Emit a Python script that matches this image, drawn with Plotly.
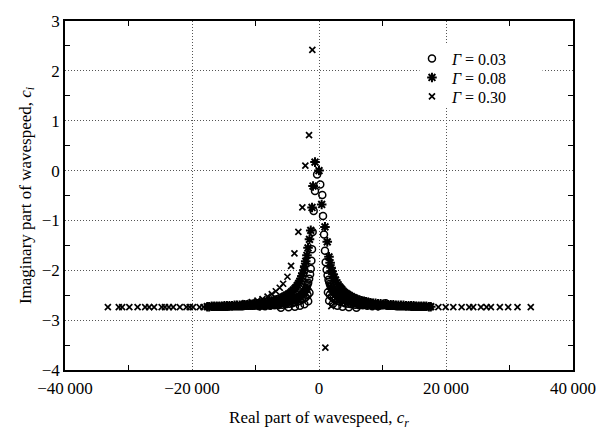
import plotly.graph_objects as go

# Gamma = 0.03 (open circles): main branch, then inner branches filling the band
g003_x = [-300, -630, -840, -1000, -1100, -1200, -1300, -1400, -1550, -1700, -1800, -1900, -2000, -2100,
          -2250, -2350, -2500, -2600, -2750, -2900, -3050, -3200, -3400, -3600, -3800, -4000, -4250,
          -4500, -4750, -5000, -5250, -5500, -5750, -6000, -6300, -6600, -6900, -7200, -7500, -7800,
          -8100, -8400, -8700, -9000, -9300, -9600, -9900, -10200, -10500, -10800, -11100, -11400,
          -11700, -12000, -12300, -12600, -12900, -13200, -13500, -13800, -14100, -14400, -14700,
          -15000, -15300, -15600, -15900, -16200, -16500, -16800,
          200, 520, 630, 790, 940, 1050, 1200, 1350, 1500, 1600, 1700, 1800, 1900, 2000, 2150, 2300,
          2400, 2550, 2700, 2850, 3000, 3200, 3400, 3600, 3800, 4050, 4300, 4550, 4800, 5050, 5300,
          5600, 5900, 6200, 6500, 6800, 7100, 7400, 7700, 8000, 8300, 8600, 8900, 9200, 9500, 9800,
          10100, 10500, 10700, 11000, 11300, 11600, 11900, 12200, 12500, 12800, 13100, 13400, 13700,
          14000, 14300, 14600, 14900, 15200, 15500, 15800, 16100, 16400, 16700,
          -1500, -1800, -2100, -2400, -2700, -3000, -3400, -3800, -4200, -4700, -5200, -5800, -6400,
          -7000, -7700, -8500, -9400,
          -1700, -2300, -3000, -3800, -4800, -6000,
          1400, 1700, 2000, 2300, 2600, 2900, 3300, 3700, 4100, 4600, 5100, 5700, 6300, 6900, 7600,
          8400, 9300,
          1600, 2200, 2900, 3700, 4700, 5900]
g003_y = [-0.08, -0.41, -0.81, -1.23, -1.58, -1.81, -1.97, -2.08, -2.17, -2.25, -2.28, -2.32, -2.35, -2.38,
          -2.41, -2.43, -2.45, -2.47, -2.49, -2.51, -2.52, -2.54, -2.55, -2.57, -2.58, -2.59, -2.60,
          -2.61, -2.62, -2.63, -2.64, -2.65, -2.65, -2.66, -2.66, -2.67, -2.67, -2.68, -2.68, -2.69,
          -2.69, -2.69, -2.69, -2.70, -2.70, -2.70, -2.70, -2.71, -2.71, -2.71, -2.71, -2.71,
          -2.71, -2.72, -2.72, -2.72, -2.72, -2.72, -2.72, -2.72, -2.72, -2.73, -2.73,
          -2.73, -2.73, -2.73, -2.73, -2.73, -2.73, -2.73,
          -0.28, -0.49, -0.91, -1.28, -1.61, -1.84, -1.99, -2.10, -2.19, -2.23, -2.27, -2.30, -2.33, -2.36,
          -2.39, -2.42, -2.44, -2.46, -2.48, -2.50, -2.52, -2.53, -2.55, -2.56, -2.58, -2.59, -2.60,
          -2.61, -2.62, -2.63, -2.64, -2.65, -2.65, -2.66, -2.66, -2.67, -2.67, -2.68, -2.68, -2.68,
          -2.69, -2.69, -2.69, -2.70, -2.70, -2.70, -2.70, -2.66, -2.71, -2.71, -2.71, -2.71, -2.71,
          -2.72, -2.72, -2.72, -2.72, -2.72, -2.72, -2.72, -2.72, -2.73, -2.73, -2.73, -2.73, -2.73,
          -2.73, -2.73, -2.73,
          -2.45, -2.50, -2.54, -2.57, -2.59, -2.61, -2.63, -2.64, -2.66, -2.67, -2.68, -2.69, -2.70,
          -2.70, -2.71, -2.72, -2.72,
          -2.62, -2.68, -2.71, -2.73, -2.74, -2.75,
          -2.44, -2.49, -2.53, -2.56, -2.59, -2.61, -2.63, -2.64, -2.66, -2.67, -2.68, -2.69, -2.70,
          -2.70, -2.71, -2.72, -2.72,
          -2.61, -2.67, -2.71, -2.73, -2.74, -2.75]

# Gamma = 0.08 (asterisks)
g008_x = [-630, -940, -1100, -1300, -1500, -1730, -1900, -2090, -2250, -2400, -2550, -2700, -2850, -3000,
          -3200, -3400, -3600, -3800, -4050, -4300, -4550, -4800, -5100, -5400, -5700, -6000, -6350,
          -6700, -7050, -7400, -7750, -8100, -8500, -8900, -9300, -9700, -10100, -10500, -10900,
          -11300, -11700, -12100, -12500, -12900, -13300, -13700, -14100, -14500, -14900, -15300,
          -15700, -16100, -16500, -16900, -17300, -17600,
          0, 420, 940, 1300, 1570, 1750, 1900, 2050, 2200, 2400, 2600, 2800, 3000, 3200, 3400, 3600,
          3800, 4050, 4300, 4550, 4800, 5100, 5400, 5700, 6000, 6350, 6700, 7050, 7400, 7750, 8100,
          8500, 8900, 9300, 9700, 10100, 10500, 10900, 11300, 11700, 12100, 12500, 12900, 13300,
          13700, 14100, 14500, 14900, 15300, 15700, 16100, 16500, 16900, 17300, 17600,
          -1900, -2300, -2700, -3100, -3500, -4000, -4500, -5000, -5600, -6200, -6900, -7600, -8400, -9300,
          1900, 2300, 2700, 3100, 3500, 4000, 4500, 5000, 5600, 6200, 6900, 7600, 8400, 9300]
g008_y = [0.17, -0.31, -0.74, -1.20, -1.38, -1.55, -1.70, -1.82, -1.92, -2.00, -2.06, -2.12, -2.17, -2.22,
          -2.26, -2.30, -2.34, -2.37, -2.40, -2.43, -2.46, -2.48, -2.50, -2.52, -2.54, -2.56, -2.58,
          -2.59, -2.60, -2.62, -2.63, -2.64, -2.65, -2.66, -2.66, -2.67, -2.67, -2.68, -2.68,
          -2.69, -2.69, -2.70, -2.70, -2.70, -2.70, -2.71, -2.71, -2.71, -2.71, -2.72,
          -2.72, -2.72, -2.72, -2.72, -2.73, -2.73,
          0.00, -0.68, -1.13, -1.43, -1.73, -1.85, -1.95, -2.02, -2.08, -2.14, -2.20, -2.25, -2.29, -2.33,
          -2.36, -2.39, -2.42, -2.45, -2.47, -2.49, -2.51, -2.53, -2.55, -2.57, -2.58, -2.60, -2.61,
          -2.62, -2.63, -2.64, -2.65, -2.66, -2.66, -2.67, -2.67, -2.68, -2.68, -2.69, -2.69, -2.69,
          -2.70, -2.70, -2.70, -2.70, -2.71, -2.71, -2.71, -2.71, -2.72, -2.72, -2.72, -2.72, -2.72,
          -2.73, -2.73,
          -2.38, -2.44, -2.49, -2.53, -2.56, -2.59, -2.61, -2.63, -2.65, -2.66, -2.68, -2.69, -2.70, -2.71,
          -2.37, -2.43, -2.48, -2.52, -2.55, -2.58, -2.61, -2.63, -2.65, -2.66, -2.68, -2.69, -2.70, -2.71]

# Gamma = 0.30 (crosses)
g030_x = [-1050, -1570, -2150, -2620, -3250, -3870, -4400, -4970, -5650, -6180, -6800, -7430, -8100,
          -8900, -9700, -10600, -11600, -12600, -13700, -14900, -16200, -17300,
          -18180, -18800, -19840, -20360, -20880, -21920, -22960, -23640, -24260, -24780, -25970,
          -26750, -27380, -28570, -29870, -31000, -31530, -33250,
          1000, 1940, 3000, 4500, 6000, 7500, 9000, 10500, 12000, 13500, 15000, 16300,
          17490, 18800, 19950, 21150, 22460, 23660, 24290, 25500, 26390, 27070, 28480, 29790, 31260, 33350]
g030_y = [2.42, 0.71, 0.10, -0.74, -1.23, -1.66, -1.91, -2.13, -2.27, -2.35, -2.42, -2.48, -2.53,
          -2.58, -2.61, -2.64, -2.66, -2.68, -2.70, -2.71, -2.72, -2.73,
          -2.74, -2.74, -2.74, -2.74, -2.74, -2.74, -2.74, -2.74, -2.74, -2.74, -2.74,
          -2.74, -2.74, -2.74, -2.74, -2.74, -2.74, -2.74,
          -3.55, -2.72, -2.62, -2.64, -2.66, -2.68, -2.70, -2.71, -2.72, -2.72, -2.73, -2.73,
          -2.74, -2.74, -2.74, -2.74, -2.74, -2.74, -2.74, -2.74, -2.74, -2.74, -2.74, -2.74, -2.74, -2.74]

x_tickvals = [-40000, -20000, 0, 20000, 40000]
x_ticktext = ["\u221240\u2009000", "\u221220\u2009000", "0", "20\u2009000", "40\u2009000"]
y_tickvals = [-4, -3, -2, -1, 0, 1, 2, 3]
y_ticktext = ["\u22124", "\u22123", "\u22122", "\u22121", "0", "1", "2", "3"]

FONT = "Liberation Serif"

fig = go.Figure()
fig.add_trace(go.Scatter(x=g003_x, y=g003_y, mode="markers", name="<i>\u0393</i> = 0.03", legend="legend",
                         marker=dict(symbol="circle-open", size=7, color="black", line=dict(width=1.5))))
fig.add_trace(go.Scatter(x=g008_x, y=g008_y, mode="markers", name="<i>\u0393</i> = 0.08", legend="legend2",
                         marker=dict(symbol="asterisk-open", size=8, color="black", line=dict(width=2))))
fig.add_trace(go.Scatter(x=g030_x, y=g030_y, mode="markers", name="<i>\u0393</i> = 0.30", legend="legend3",
                         marker=dict(symbol="x-thin-open", size=6, color="black", line=dict(width=1.7))))

axis_common = dict(
    showline=True, linecolor="black", linewidth=1.5, mirror="allticks",
    ticks="", showgrid=True, gridcolor="#555555", griddash="1px,2px", gridwidth=1,
    zeroline=False, tickfont=dict(family=FONT, size=17, color="black"),
)

fig.update_xaxes(range=[-40000, 40000], tickvals=x_tickvals, ticktext=x_ticktext,
                 ticklabelstandoff=2,
                 minor=dict(tickvals=[-30000, -10000, 10000, 30000], ticks="inside", ticklen=5,
                            tickcolor="black", tickwidth=1, showgrid=False),
                 title=dict(text="Real part of wavespeed, <i>c<sub>r</sub></i>",
                            font=dict(family=FONT, size=17, color="black"), standoff=14),
                 **axis_common)
fig.update_yaxes(range=[-4, 3], tickvals=y_tickvals, ticktext=y_ticktext,
                 minor=dict(tickvals=[-3.5, -2.5, -1.5, -0.5, 0.5, 1.5, 2.5], ticks="inside", ticklen=5,
                            tickcolor="black", tickwidth=1, showgrid=False),
                 title=dict(text="Imaginary part of wavespeed, <i>c<sub>i</sub></i>",
                            font=dict(family=FONT, size=17, color="black"), standoff=6),
                 **axis_common)

leg_common = dict(x=0.683, xanchor="left", yanchor="middle", bgcolor="rgba(0,0,0,0)",
                  font=dict(family=FONT, size=16, color="black"), itemwidth=30)

fig.update_layout(
    width=608, height=436,
    margin=dict(l=65, r=27, t=14, b=64),
    plot_bgcolor="white", paper_bgcolor="white",
    font=dict(family=FONT, color="black"),
    showlegend=True,
    legend=dict(y=0.892, **leg_common),
    legend2=dict(y=0.838, **leg_common),
    legend3=dict(y=0.784, **leg_common),
    shapes=[dict(type="rect", xref="paper", yref="paper", x0=0.698, x1=0.94, y0=0.752, y1=0.936,
                 fillcolor="white", line=dict(width=0), layer="above")],
)

fig.write_html("out.html")
